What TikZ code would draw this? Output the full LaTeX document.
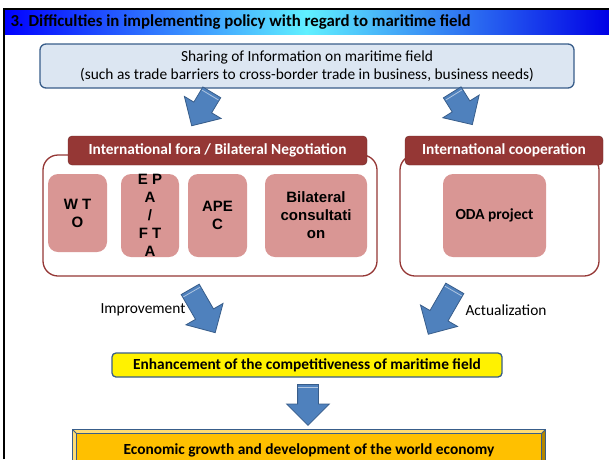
\documentclass[tikz,border=0pt]{standalone}
\usepackage{fontspec}
\setmainfont{Carlito}
\newfontfamily\arialfont{Liberation Sans}
\usetikzlibrary{shapes.arrows, calc}

\definecolor{frameblue}{RGB}{56,93,138}
\definecolor{paleblue}{RGB}{220,230,242}
\definecolor{darkred}{RGB}{149,55,53}
\definecolor{rosepink}{RGB}{217,150,148}
\definecolor{arrowblue}{RGB}{79,129,189}
\definecolor{amber}{RGB}{255,192,0}
\definecolor{titlecyan}{RGB}{96,240,255}

\begin{document}
\begin{tikzpicture}[x=1pt,y=-1pt,font=\fontsize{15.4}{17.5}\selectfont,
  info box/.style={draw=frameblue,line width=1.3pt,fill=paleblue,rounded corners=6pt,
    inner sep=0pt,align=center,minimum width=534pt,minimum height=44pt},
  group box/.style={draw=darkred,line width=1.3pt,fill=white,rounded corners=15pt,
    inner sep=0pt,minimum height=121pt},
  head box/.style={draw=darkred!75!black,fill=darkred,rounded corners=4pt,text=white,
    font=\fontsize{15.4}{18}\selectfont\bfseries,inner sep=0pt,minimum height=29pt},
  item box/.style={fill=rosepink,rounded corners=10pt,inner sep=0pt,align=center,
    minimum height=83pt,font=\arialfont\fontsize{15}{18}\selectfont\bfseries},
  block arrow/.style={single arrow,draw=frameblue,fill=arrowblue,line width=0.8pt,
    inner sep=10pt,single arrow head extend=11pt,anchor=tail},
  goal box/.style={draw=frameblue,line width=1.3pt,fill=yellow,rounded corners=4pt,
    inner sep=0pt,minimum width=390pt,minimum height=24pt,font=\fontsize{15.4}{18}\selectfont\bfseries},
  result box/.style={draw=frameblue,line width=1.2pt,fill=amber,inner sep=0pt,
    minimum width=472pt,minimum height=40pt,font=\fontsize{15.4}{18}\selectfont\bfseries}]
  \useasboundingbox (0,0) rectangle (609,459);
  \clip (0,0) rectangle (609,459);

  % heading strip
  \shade[left color=blue,right color=blue!90!black,middle color=titlecyan] (4,10) rectangle (609,34);
  \draw[line width=2pt] (4,459) -- (4,9) -- (609,9);
  \node[anchor=west,font=\fontsize{16.8}{18}\selectfont\bfseries] (title) at (7,22)
    {3. Difficulties in implementing policy with regard to maritime field};

  \node[info box] (share) at (307,66)
    {Sharing of Information on maritime field\\(such as trade barriers to cross-border trade in business, business needs)};

  % the two groups
  \node[group box,minimum width=334pt] (fora) at (210,215.5) {};
  \node[group box,minimum width=199pt] (coop) at (499.5,215.5) {};
  \node[head box,minimum width=299pt] (forahead) at (217.5,150.5) {International fora / Bilateral Negotiation};
  \node[head box,minimum width=198pt] (coophead) at (504,150.5) {International cooperation};

  \node[item box,minimum width=59pt,minimum height=78pt] (wto) at (77.5,213) {W T\\O};
  \node[item box,minimum width=58pt,inner ysep=-2pt] (epa) at (150,215.5) {E P\\A\\/\\F T\\A};
  \node[item box,minimum width=59pt] (apec) at (217.5,215.5) {APE\\C};
  \node[item box,minimum width=102pt] (bilat) at (316,215.5) {Bilateral\\consultati\\on};
  \node[item box,minimum width=103pt,font=\fontsize{15.4}{18}\selectfont\bfseries] (oda) at (494.5,215.5) {ODA project};

  \node (improve) at (143,310) {Improvement};
  \node (actual) at (506,310) {Actualization};

  \node[goal box] (goal) at (307,365) {Enhancement of the competitiveness of maritime field};
  \node[result box] (econ) at (309,450) {Economic growth and development of the world economy};

  % bevel on the bottom box
  \fill[amber!55!white] (econ.north west) -- (econ.north east) -- ($(econ.north east)+(-4,4)$)
    -- ($(econ.north west)+(4,4)$) -- ($(econ.south west)+(4,0)$) -- (econ.south west) -- cycle;
  \fill[amber!70!black] (econ.north east) -- (econ.south east) -- ($(econ.south east)+(-4,0)$)
    -- ($(econ.north east)+(-4,4)$) -- cycle;
  \draw[frameblue,line width=0.8pt] ($(econ.north west)+(4,4)$) rectangle ($(econ.south east)+(-4,0)$);
  \draw[frameblue,line width=0.8pt] (econ.north west) -- ++(4,4) (econ.north east) -- ++(-4,4);
  \draw[frameblue,line width=1.2pt] (econ.south west) |- (econ.north east) -- (econ.south east);

  % block arrows
  \node[block arrow,rotate=-121,minimum height=39pt] (a1) at (212,92) {};
  \node[block arrow,rotate=-58,minimum height=38pt] (a2) at (452,92) {};
  \node[block arrow,rotate=-60,minimum height=50pt] (a3) at (190,289) {};
  \node[block arrow,rotate=-120,minimum height=53pt] (a4) at (455,288) {};
  \node[block arrow,rotate=-90,minimum height=41pt] (a5) at (308,384) {};
  \foreach \a/\r in {a1/-121,a2/-58,a3/-60,a4/-120,a5/-90}
    \draw[arrowblue!45!white,line width=0.8pt] ($(\a.tail)!3.5pt!(\a.tip)$) ++(\r+90:9.6pt) -- ++(\r-90:19.2pt);
\end{tikzpicture}
\end{document}
